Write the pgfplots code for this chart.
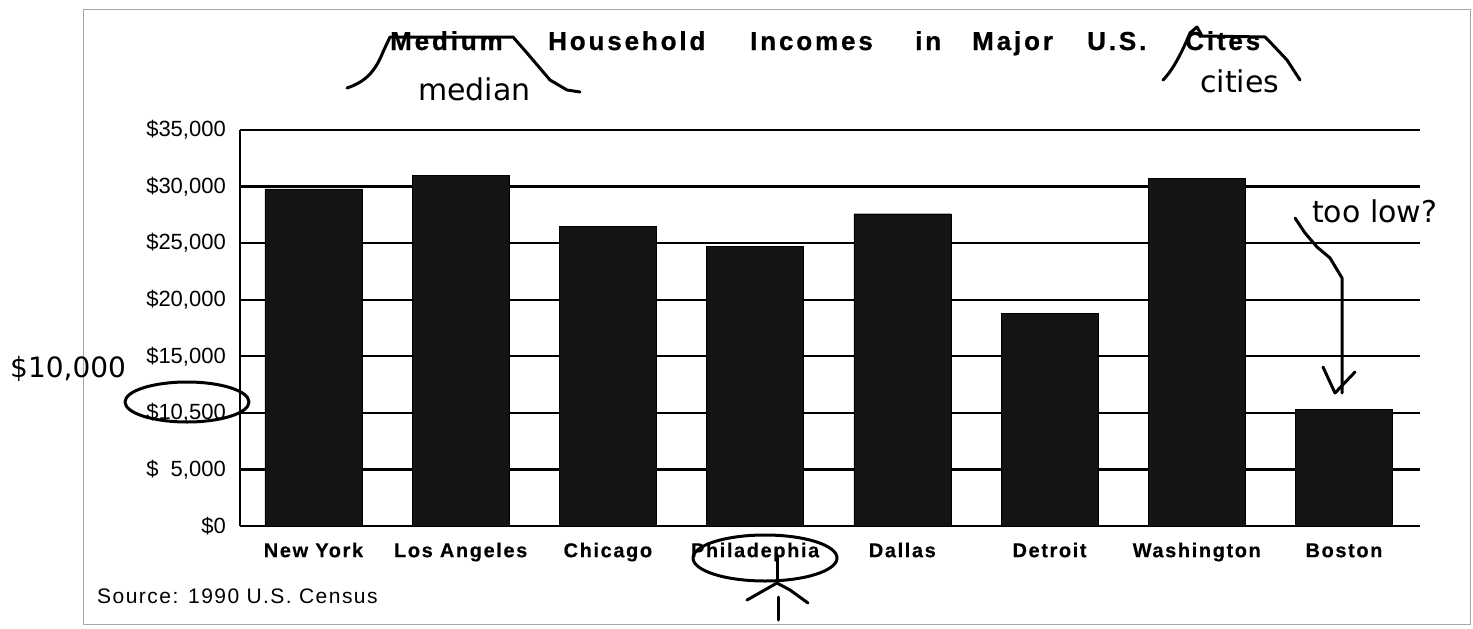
\documentclass[border=0pt]{standalone}
\usepackage{fontspec}
\setmainfont{Liberation Sans}
\newfontfamily\hand{DejaVu Sans}
\newfontfamily\titlefont[LetterSpace=11,FakeBold=0.8]{Liberation Sans Bold}
\newfontfamily\labfont[LetterSpace=8,FakeBold=0.4]{Liberation Sans Bold}
\newfontfamily\srcfont[LetterSpace=7]{Liberation Sans}
\usepackage{pgfplots}
\pgfplotsset{compat=1.18}
\begin{document}
\begin{tikzpicture}
\useasboundingbox (0pt,0pt) rectangle (1473pt,-629pt);
\begin{axis}[
  at={(240pt,-526pt)}, anchor=south west,
  scale only axis, width=1180pt, height=396pt,
  xmin=-0.499, xmax=7.516, ymin=0, ymax=35000,
  axis lines*=left,
  axis line style={line width=2.4pt,-},
  ymajorgrids, grid style={line width=2.4pt, black},
  major tick length=0pt,
  xtick={0,...,7},
  xticklabels={New York,Los Angeles,Chicago,Philadephia,Dallas,Detroit,Washington,Boston},
  ytick={0,5000,...,35000},
  yticklabels={{\$0},{\$\phantom{1}5,000},{\$10,500},{\$15,000},{\$20,000},{\$25,000},{\$30,000},{\$35,000}},
  scaled y ticks=false,
  xticklabel style={font=\labfont\fontsize{20}{24}\selectfont, anchor=north, inner sep=0pt, text height=15pt, text depth=4pt, yshift=-16pt},
  yticklabel style={font=\fontsize{22}{26}\selectfont, anchor=east, inner sep=0pt, xshift=-14pt},
]
\addplot[ybar, bar width=97pt, fill=black!92, draw=black] coordinates {
  (0,29800) (1,31000) (2,26500) (3,24700) (4,27600) (5,18800) (6,30700) (7,10300)
};
\end{axis}
\begin{scope}[x=1pt,y=-1pt]
\draw[gray!70, line width=1pt] (83,9) rectangle (1470,624);
% title
\node[anchor=base west, inner sep=0] at (390,50) {\titlefont\fontsize{26}{30}\selectfont Medium};
\node[anchor=base west, inner sep=0] at (548,50) {\titlefont\fontsize{26}{30}\selectfont Household};
\node[anchor=base west, inner sep=0] at (750,50) {\titlefont\fontsize{26}{30}\selectfont Incomes};
\node[anchor=base west, inner sep=0] at (915,50) {\titlefont\fontsize{26}{30}\selectfont in};
\node[anchor=base west, inner sep=0] at (972,50) {\titlefont\fontsize{26}{30}\selectfont Major};
\node[anchor=base west, inner sep=0] at (1087,50) {\titlefont\fontsize{26}{30}\selectfont U.S.};
\node[anchor=base west, inner sep=0] at (1185,50) {\titlefont\fontsize{26}{30}\selectfont Cites};
% source
\node[anchor=base west, inner sep=0] at (97,603) {\srcfont\fontsize{21}{25}\selectfont Source: 1990 U.S. Census};
% handwritten annotations
\begin{scope}[line width=3pt, line cap=round, line join=round]
\draw (347,88) .. controls (365,82) and (375,72) .. (383,52) -- (390,37) -- (513,37) -- (527,53) -- (550,80) -- (567,90) -- (580,92);
\draw (1163,80) .. controls (1175,68) and (1185,45) .. (1190,33) -- (1197,27) -- (1202,36) -- (1265,37) -- (1270,42) -- (1287,60) -- (1300,80);
\draw (187,402) ellipse [x radius=62, y radius=20];
\draw (765,558) ellipse [x radius=72, y radius=23];
\draw (777,557) -- (777,583);
\draw (747,600) -- (777,583) -- (790,590) -- (808,603);
\draw (778,597) -- (778,620);
\draw (1295,218) -- (1305,233) -- (1317,247) -- (1330,258) -- (1342,278) -- (1342,393);
\draw (1323,367) -- (1335,393) -- (1355,372);
\end{scope}
\node[anchor=base west, inner sep=0] at (418,100) {\hand\fontsize{30}{34}\selectfont median};
\node[anchor=base west, inner sep=0] at (1200,92) {\hand\fontsize{30}{34}\selectfont cities};
\node[anchor=base west, inner sep=0] at (1312,222) {\hand\fontsize{30}{34}\selectfont too low?};
\node[anchor=base west, inner sep=0] at (10,377) {\hand\fontsize{28}{32}\selectfont \$10,000};
\end{scope}
\end{tikzpicture}
\end{document}
